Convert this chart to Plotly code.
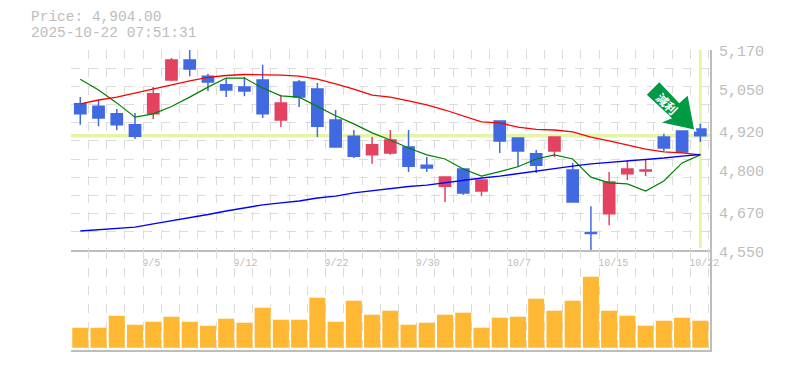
import plotly.graph_objects as go

indices = list(range(35))
highs  = [5024,5015,4987,4975,5055,5145,5170,5096,5083,5086,5124,5031,5077,5068,4984,4922,4900,4922,4922,4838,4776,4801,4767,4950,4897,4860,4903,4820,4686,4792,4829,4832,4910,4919,4941]
lows   = [4938,4934,4922,4894,4956,5074,5089,5043,5024,5027,4959,4931,4993,4900,4869,4835,4817,4845,4792,4792,4699,4721,4717,4851,4807,4789,4838,4699,4550,4627,4767,4779,4857,4851,4885]
opens  = [5003,4996,4972,4938,4972,5077,5139,5089,5062,5055,5077,4953,5071,5049,4953,4903,4845,4851,4869,4813,4748,4801,4733,4950,4897,4848,4857,4798,4604,4662,4786,4795,4900,4919,4925]
closes = [4972,4959,4938,4903,5034,5139,5111,5071,5046,5043,4972,5006,5024,4934,4869,4841,4876,4891,4810,4804,4776,4727,4767,4888,4857,4813,4900,4699,4601,4761,4801,4798,4866,4854,4904]
ma_red   = [5003,5015,5024,5037,5049,5061,5074,5085,5091,5094,5094,5092,5089,5080,5065,5049,5030,5024,5012,5000,4984,4965,4947,4944,4931,4924,4922,4916,4900,4888,4875,4863,4854,4851,4845]
ma_green = [5079,5046,5006,4962,4972,4995,5024,5055,5083,5083,5052,5028,5024,4994,4966,4941,4913,4891,4866,4845,4832,4801,4779,4793,4808,4832,4845,4832,4776,4758,4755,4733,4764,4820,4845]
ma_blue  = [4609,4613,4617,4621,4631,4640,4649,4660,4671,4680,4690,4696,4702,4711,4717,4727,4734,4742,4747,4751,4759,4767,4773,4779,4787,4795,4804,4810,4817,4821,4826,4829,4835,4841,4846]
volumes  = [20,20,32,23,26,31,26,22,29,25,40,28,28,50,26,47,33,37,23,25,33,35,20,30,31,49,37,47,71,37,32,22,27,30,27]

x_labels = ["9/5","9/12","9/22","9/30","10/7","10/15","10/22"]
x_label_idx = [4,9,14,19,24,29,34]
y_labels = [5170,5050,4920,4800,4670,4550]
last_price = 4904
title_lines = ["Price: 4,904.00","2025-10-22 07:51:31"]
signal = "減利"

GRAY = "#bdbdbd"
GRID = "#dcdcdc"
HL = "#e4f5a8"
MONO = "Liberation Mono, DejaVu Sans Mono, monospace"
STEP = 18.235
tick_pos = [i + (len(t)*3 - 11)/STEP for i, t in zip(x_label_idx, x_labels)]

fig = go.Figure()
fig.add_trace(go.Bar(x=indices, y=volumes, xaxis="x2", yaxis="y2", width=0.88,
                     marker=dict(color="#ffb833", line_width=0), showlegend=False))
fig.add_trace(go.Candlestick(x=indices, open=opens, high=highs, low=lows, close=closes,
                             increasing=dict(line=dict(color="#e34260", width=1.5), fillcolor="#e34260"),
                             decreasing=dict(line=dict(color="#4169e1", width=1.5), fillcolor="#4169e1"),
                             showlegend=False))
for vals, col, w in [(ma_green, "#008000", 1.2), (ma_red, "#ff0000", 1.3), (ma_blue, "#0000ff", 1.4)]:
    fig.add_trace(go.Scatter(x=indices, y=vals, mode="lines", line=dict(color=col, width=w), showlegend=False))

grid_minor = dict(showgrid=True, gridcolor=GRID, griddash="dash", gridwidth=1, tick0=-0.55, dtick=1, ticklen=0)
fig.update_layout(
    width=785, height=370, autosize=False,
    margin=dict(l=0, r=0, t=0, b=0, pad=0, autoexpand=False),
    paper_bgcolor="white", plot_bgcolor="white",
    boxgap=0.12, bargap=0.12, hovermode=False,
    xaxis=dict(domain=[70.7/785, 710/785], range=[-0.526, 34.53], anchor="y", automargin=False,
               tickmode="array", tickvals=tick_pos, ticktext=x_labels,
               showgrid=False, zeroline=False, showline=True, linecolor=GRAY, linewidth=2, mirror=False,
               ticks="outside", ticklen=2, tickcolor="rgba(0,0,0,0)",
               tickfont=dict(family=MONO, size=10, color=GRAY),
               rangeslider=dict(visible=False), minor=grid_minor),
    yaxis=dict(domain=[(370-250)/370, (370-50)/370], range=[4550, 5170], anchor="x", automargin=False,
               side="right", showticklabels=False, ticks="",
               tickmode="linear", tick0=4550, dtick=620/11,
               showgrid=True, gridcolor=GRID, griddash="dash", gridwidth=1, zeroline=False,
               showline=True, linecolor=GRAY, linewidth=2),
    xaxis2=dict(domain=[70.7/785, 710/785], range=[-0.526, 34.53], anchor="y2", automargin=False,
                showticklabels=False, ticks="", showgrid=False, zeroline=False,
                showline=True, linecolor=GRAY, linewidth=2, minor=grid_minor),
    yaxis2=dict(domain=[(370-350)/370, (370-250)/370], range=[-2.3, 97.7], anchor="x2", automargin=False,
                side="right", showticklabels=False, ticks="", showgrid=False, zeroline=False,
                showline=True, linecolor=GRAY, linewidth=2),
)

shapes = [
    dict(type="line", layer="below", xref="x domain", yref="y", x0=0, x1=1, y0=last_price, y1=last_price,
         line=dict(color=HL, width=3.5)),
    dict(type="line", layer="below", xref="x", yref="y domain", x0=indices[-1], x1=indices[-1], y0=0.01, y1=1,
         line=dict(color=HL, width=3)),
    dict(type="path", layer="above", xref="x", yref="y", xsizemode="pixel", ysizemode="pixel",
         xanchor=indices[-1], yanchor=last_price,
         path="M -41 55 L -55 41 L -30 18 L -42 13 L -5 5 L -12 42 L -21 34 Z",
         fillcolor="#009944", line=dict(color="white", width=2)),
]
fig.update_layout(shapes=shapes)

annotations = [
    dict(text=title_lines[0], xref="x domain", yref="y domain", x=-41.7/639.3, y=1+33/200, xanchor="left", yanchor="middle",
         showarrow=False, font=dict(family=MONO, size=14.5, color=GRAY)),
    dict(text=title_lines[1], xref="x domain", yref="y domain", x=-41.7/639.3, y=1+16.5/200, xanchor="left", yanchor="middle",
         showarrow=False, font=dict(family=MONO, size=14.5, color=GRAY)),
    dict(text=signal, xref="x", yref="y", x=indices[-1], y=last_price, xshift=-33, yshift=32, showarrow=False,
         textangle=45, font=dict(family="Noto Sans CJK JP", size=12, color="white", weight="bold")),
]
for v in y_labels:
    annotations.append(dict(text=f"{v:,}", xref="x domain", yref="y", x=1, y=v, xanchor="left", yanchor="middle",
                            xshift=7, yshift=-3, showarrow=False,
                            font=dict(family=MONO, size=15, color=GRAY)))
fig.update_layout(annotations=annotations)

fig.write_html("out.html", config=dict(displayModeBar=False),
               post_script="document.body.style.margin='0';")
